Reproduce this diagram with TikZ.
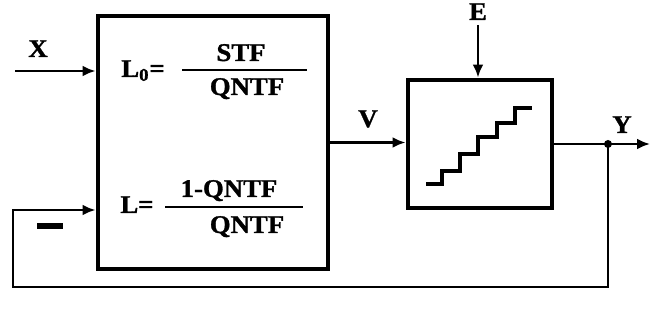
\documentclass[tikz,border=0pt]{standalone}
\usepackage{fontspec}
\setmainfont[FakeStretch=1.05, BoldFeatures={FakeBold=1.2}]{Liberation Serif}
\usetikzlibrary{arrows.meta,positioning,calc}

\begin{document}
\begin{tikzpicture}[
    block/.style={rectangle, draw, line width=2.8pt, inner sep=0pt},
    lbl/.style={font=\fontsize{14.5}{16}\selectfont\bfseries, inner sep=0pt, anchor=base},
    bar/.style={line width=1.4pt},
    wire/.style={line width=1.6pt},
    arrow/.style={wire, -{Latex[length=2.6mm,width=2.2mm]}}
]
    \useasboundingbox (0,0) rectangle (13.02,6.42);

    % blocks
    \node[block, minimum width=4.6cm, minimum height=5.06cm] (loop) at (4.26,3.57) {};
    \node[block, minimum width=2.88cm, minimum height=2.56cm] (quant) at (9.6,3.54) {};

    % loop filter text
    \node[lbl] (lzero) at (2.86,4.88) {L\textsubscript{0}=};
    \node[lbl] (stf) at (4.82,5.2) {STF};
    \node[lbl] (qntfa) at (4.94,4.52) {QNTF};
    \draw[bar] (3.64,5.02) -- (6.14,5.02);
    \node[lbl] (lone) at (2.74,2.16) {L=};
    \node[lbl] (numq) at (4.58,2.48) {1-QNTF};
    \node[lbl] (qntfb) at (4.94,1.76) {QNTF};
    \draw[bar] (3.3,2.28) -- (6.06,2.28);

    % quantizer staircase
    \draw[line width=2.3pt] (8.52,2.74) -- (8.84,2.74) -- (8.84,3.0) -- (9.2,3.0)
        -- (9.2,3.34) -- (9.56,3.34) -- (9.56,3.68) -- (9.94,3.68) -- (9.94,3.96)
        -- (10.3,3.96) -- (10.3,4.26) -- (10.64,4.26);

    % signals
    \coordinate (xin) at (0.3,5.0);
    \coordinate (ein) at (9.56,5.92);
    \coordinate (yout) at (13.0,3.54);
    \coordinate (tap) at (12.16,3.54);
    \coordinate (fbr) at (12.16,0.68);
    \coordinate (fbl) at (0.26,0.68);
    \coordinate (fbt) at (0.26,2.22);

    \node[lbl] (xlab) at (0.76,5.28) {X};
    \node[lbl] (vlab) at (7.36,3.88) {V};
    \node[lbl] (elab) at (9.56,6.02) {E};
    \node[lbl] (ylab) at (12.44,3.76) {Y};
    \node[inner sep=0pt] (minus) at (1.0,1.9) {\rule{0.52cm}{0.11cm}};

    \draw[arrow] (xin) -- (xin -| loop.west);
    \draw[arrow] (loop.east) -- (loop.east -| quant.west);
    \draw[arrow] (ein) -- (ein |- quant.north);
    \draw[arrow] (quant.east) -- (yout);
    \fill (tap) circle (0.08);
    \draw[arrow] (tap) -- (fbr) -- (fbl) -- (fbt) -- (fbt -| loop.west);
\end{tikzpicture}
\end{document}
